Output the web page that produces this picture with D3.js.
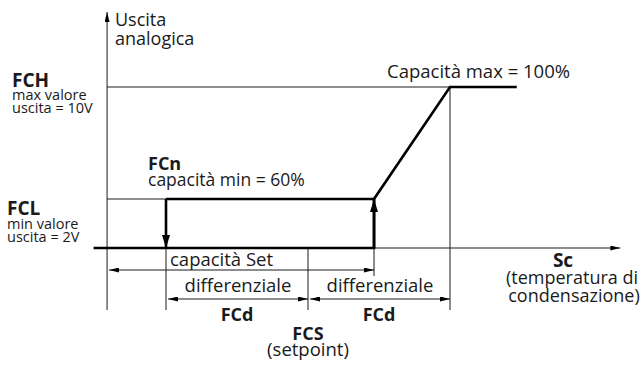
<!DOCTYPE html>
<html lang="it">
<head>
<meta charset="utf-8">
<title>Uscita analogica FCL / FCH</title>
<script src="https://d3js.org/d3.v7.min.js"></script>
<style>
	body { margin: 0; background: #fff; }
	svg text { font-family: "Open Sans", "Noto Sans", sans-serif; fill: #1a1a1a; }
	.b { font-weight: bold; }
	.thin { stroke: #1a1a1a; stroke-width: 1; fill: none; }
	.thick { stroke: #000; stroke-width: 2.6; fill: none; }
</style>
</head>
<body>
<script>
// Temperature positions, in units of the differential FCd (setpoint FCS = 0)
var fcs = 0, fcd = 1;
var xAxisStart = -1.415, xAxisEnd = 2.2;
var xStart = -1.51;        // thick baseline start
var xOn = 0.465;           // end of "capacità Set"
var xMaxEnd = 1.47;        // end of max plateau
// Output levels (V)
var levels = { zero: 0, FCL: 2, FCH: 10 };

// Output profile (x in FCd units, y in V)
var profile = [[xStart, 0], [xOn, 0], [xOn, 2], [fcs + fcd, 10], [xMaxEnd, 10]];
var minLine = [[fcs - fcd, 2], [xOn, 2]];

var width = 644, height = 370;

var svg = d3.select("body").append("svg")
	.attr("width", width)
	.attr("height", height);

var x = d3.scaleLinear().domain([-1, 1]).range([166, 450]);
// piecewise: the drawing is not to scale between 0 and FCL
var y = d3.scaleLinear().domain([0, 2, 10]).range([248, 199, 87]);

var defs = svg.append("defs");
function marker(id, len, w, orient) {
	defs.append("marker")
		.attr("id", id)
		.attr("viewBox", "0 0 " + len + " " + w)
		.attr("refX", len).attr("refY", w / 2)
		.attr("markerWidth", len).attr("markerHeight", w)
		.attr("markerUnits", "userSpaceOnUse")
		.attr("orient", orient)
		.append("path")
		.attr("d", "M0,0L" + len + "," + (w / 2) + "L0," + w + "Z")
		.attr("fill", "#000");
}
marker("ah", 10, 5, "auto");
marker("ahs", 10, 5, "auto-start-reverse");
marker("big", 13, 8, "auto");

var line = d3.line().x(function(d) { return x(d[0]); }).y(function(d) { return y(d[1]); });

// axes
svg.append("line").attr("class", "thin")
	.attr("x1", x(xAxisStart)).attr("x2", x(xAxisStart))
	.attr("y1", 310).attr("y2", 12)
	.attr("marker-end", "url(#ah)");
svg.append("line").attr("class", "thin")
	.attr("x1", x(xAxisStart)).attr("x2", x(xAxisEnd))
	.attr("y1", y(0)).attr("y2", y(0))
	.attr("marker-end", "url(#ah)");

// level guides
svg.append("line").attr("class", "thin")
	.attr("x1", x(xAxisStart)).attr("x2", x(fcs + fcd))
	.attr("y1", y(levels.FCH)).attr("y2", y(levels.FCH));
svg.append("line").attr("class", "thin")
	.attr("x1", x(xAxisStart)).attr("x2", x(fcs - fcd))
	.attr("y1", y(levels.FCL)).attr("y2", y(levels.FCL));

// vertical guides
[[fcs - fcd, y(0), 310], [fcs, y(0), 310], [fcs + fcd, y(levels.FCH), 310], [xOn, y(0), 276]]
	.forEach(function(g) {
		svg.append("line").attr("class", "thin")
			.attr("x1", x(g[0])).attr("x2", x(g[0]))
			.attr("y1", g[1]).attr("y2", g[2]);
	});

// output profile
svg.append("path").attr("class", "thick").attr("d", line(profile));
svg.append("path").attr("class", "thick").attr("d", line(minLine));
svg.append("line").attr("class", "thick")
	.attr("x1", x(fcs - fcd)).attr("x2", x(fcs - fcd))
	.attr("y1", y(2)).attr("y2", y(0))
	.attr("marker-end", "url(#big)");
svg.append("line").attr("class", "thick")
	.attr("x1", x(xOn)).attr("x2", x(xOn))
	.attr("y1", y(0)).attr("y2", y(2))
	.attr("marker-end", "url(#big)");

// dimension arrows
function dim(a, b, yy) {
	svg.append("line").attr("class", "thin")
		.attr("x1", x(a) + 2).attr("x2", x(b))
		.attr("y1", yy).attr("y2", yy)
		.attr("marker-start", "url(#ahs)")
		.attr("marker-end", "url(#ah)");
}
dim(xAxisStart, xOn, 270);
dim(fcs - fcd, fcs, 299);
dim(fcs, fcs + fcd, 299);

function txt(s, xx, yy, size, cls, anchor) {
	svg.append("text")
		.attr("x", xx).attr("y", yy)
		.attr("font-size", size)
		.attr("class", cls || null)
		.attr("text-anchor", anchor || "start")
		.text(s);
}

txt("Uscita", 115, 26, 18);
txt("analogica", 115, 45, 18);
txt("FCH", 12, 87, 19, "b");
txt("max valore", 12, 100, 14.5);
txt("uscita = 10V", 12, 113, 14.5);
txt("FCL", 7, 215, 19, "b");
txt("min valore", 7, 229, 14.5);
txt("uscita = 2V", 7, 242, 14.5);
txt("FCn", 148, 170, 18, "b");
txt("capacità min = 60%", 148, 186, 17.5);
txt("Capacità max = 100%", 387, 78, 18.5);
txt("capacità Set", 170, 266, 18.5);
txt("differenziale", x(fcs - fcd / 2) + 1, 292, 18.5, null, "middle");
txt("differenziale", x(fcs + fcd / 2) + 1, 292, 18.5, null, "middle");
txt("FCd", x(fcs - fcd / 2), 321, 18, "b", "middle");
txt("FCd", x(fcs + fcd / 2), 321, 18, "b", "middle");
txt("FCS", x(fcs), 340, 18, "b", "middle");
txt("(setpoint)", x(fcs), 356, 18.5, null, "middle");
txt("Sc", 563, 267, 19, "b", "middle");
txt("(temperatura di", 572, 284, 18, null, "middle");
txt("condensazione)", 574, 302, 18, null, "middle");
</script>
</body>
</html>
